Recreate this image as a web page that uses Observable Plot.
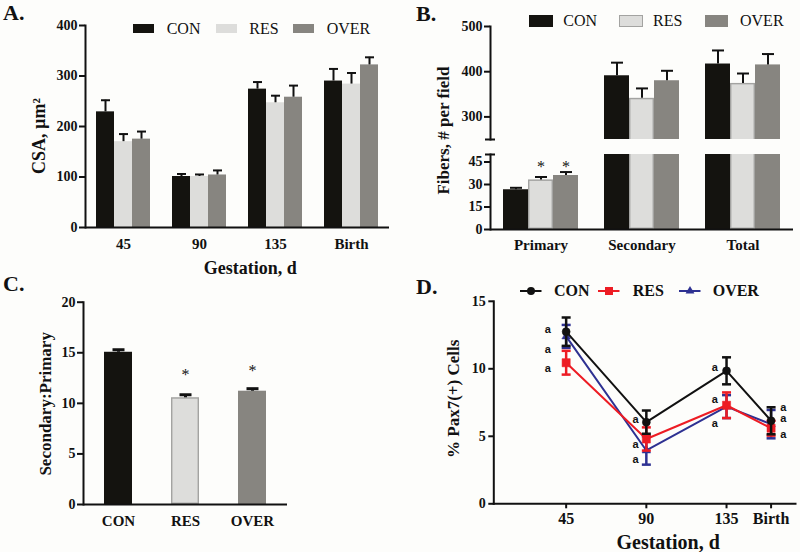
<!DOCTYPE html>
<html>
<head>
<meta charset="utf-8">
<script src="https://cdn.jsdelivr.net/npm/d3@7"></script>
<script src="https://cdn.jsdelivr.net/npm/@observablehq/plot@0.6"></script>
<style>
html,body{margin:0;padding:0;background:#fdfdfb;}
#root{position:relative;width:800px;height:552px;overflow:hidden;background:#fdfdfb;font-family:"Liberation Serif","Times New Roman",serif;color:#111;}
.panel{position:absolute;}
.panel svg{overflow:visible;max-width:none;}
.txt{position:absolute;white-space:nowrap;}
.sw{position:absolute;box-sizing:border-box;}
g[aria-label="title"] text{letter-spacing:0.6px;}
g[aria-label="title-wide"] text{letter-spacing:1.5px;}
g[aria-label="title-xwide"] text{letter-spacing:2px;}
</style>
</head>
<body>
<div id="root"></div>
<script>
// ---------- shared ----------
const groups = ["CON", "RES", "OVER"];
const barFill = ["#14130f", "#dddddb", "#878580"];
const lineColor = ["#111111", "#ed1c24", "#2e3192"];

// ---------- panel A: CSA ----------
const gestation = ["45", "90", "135", "Birth"];
const csaCON = [229, 101, 274, 290];
const csaRES = [170, 101, 247, 284];
const csaOVER = [175, 104, 258, 322];
const csaSemCON = [23, 5, 14, 24];
const csaSemRES = [15, 4, 14, 22];
const csaSemOVER = [15, 9, 23, 15];
const csaTicks = [0, 100, 200, 300, 400];

// ---------- panel B: fibers ----------
const fiberType = ["Primary", "Secondary", "Total"];
const fibCON = [26.5, 391, 417];
const fibRES = [33, 341, 374];
const fibOVER = [36, 380, 415];
const fibSemCON = [1.3, 29, 30];
const fibSemRES = [2, 22, 22];
const fibSemOVER = [2.3, 22, 24];
const fibTicksLow = [0, 15, 30, 45];
const fibTicksHigh = [300, 400, 500];
const fibStarGroup = ["RES", "OVER"];
const fibStarType = ["Primary", "Primary"];
const fibStarY = [43.5, 43.5];

// ---------- panel C: ratio ----------
const ratio = [15.05, 10.55, 11.2];
const ratioSem = [0.25, 0.3, 0.25];
const ratioStarGroup = ["RES", "OVER"];
const ratioStarY = [13.1, 13.5];
const ratioTicks = [0, 5, 10, 15, 20];

// ---------- panel D: Pax7 ----------
const dayLabels = ["45", "90", "135", "Birth"];
const days = [45, 90, 135, 160];
const paxCON = [12.75, 6.05, 9.85, 6.15];
const paxRES = [10.45, 4.8, 7.3, 5.6];
const paxOVER = [12.4, 3.95, 7.2, 5.9];
const paxSemCON = [1.05, 0.86, 1.0, 1.0];
const paxSemRES = [0.88, 0.86, 0.95, 0.55];
const paxSemOVER = [0.85, 1.05, 0.85, 1.05];
const paxTicks = [0, 5, 10, 15];
const letterX = [34.7, 34.7, 34.7, 84, 84, 84, 128.4, 128.4, 128.4, 166.9, 166.9, 166.9];
const letterY = [12.9, 11.45, 10.0, 6.25, 4.4, 3.3, 10.1, 7.75, 5.95, 7.15, 6.3, 5.15];
const letterText = ["a", "a", "a", "a", "a", "a", "a", "a", "a", "a", "a", "a"];

// ---------- helpers ----------
const root = document.getElementById("root");
const SERIF = '"Liberation Serif", "Times New Roman", serif';
const INK = "#111";
const baseStyle = `background: transparent; font-family: ${SERIF}; color: ${INK}; overflow: visible;`;
const capSymbol = {draw(ctx, size) { const w = Math.sqrt(size / Math.PI); ctx.moveTo(-w, 0); ctx.lineTo(w, 0); }};

function place(node, left, top, w, h) {
  const d = document.createElement("div");
  d.className = "panel";
  d.style.left = left + "px"; d.style.top = top + "px";
  d.style.width = w + "px"; d.style.height = h + "px";
  d.appendChild(node); root.appendChild(d);
}
function htmlText(txt, left, centerY, size, weight) {
  const d = document.createElement("div");
  d.className = "txt"; d.textContent = txt;
  d.style.left = left + "px"; d.style.top = (centerY - size / 2) + "px";
  d.style.fontSize = size + "px"; d.style.lineHeight = size + "px"; d.style.fontWeight = weight;
  root.appendChild(d);
}
function swatch(left, top, w, h, fill, border) {
  const d = document.createElement("div");
  d.className = "sw";
  d.style.cssText += `left:${left}px;top:${top}px;width:${w}px;height:${h}px;background:${fill};` + (border ? `border:1.2px solid ${border};` : "");
  root.appendChild(d);
}
function groupTable(cats, key, series, sems) {
  return cats.flatMap((c, i) => groups.map((g, j) => ({[key]: c, group: g, value: series[j][i], sem: sems[j][i]})));
}
const titleOpts = {text: d => d, fill: INK, fontSize: 17, fontWeight: "bold", ariaLabel: "title", textAnchor: "middle", lineAnchor: "middle"};

// ---------- A ----------
const tableA = groupTable(gestation, "gest", [csaCON, csaRES, csaOVER], [csaSemCON, csaSemRES, csaSemOVER]);
const plotA = Plot.plot({
  width: 400, height: 270,
  marginLeft: 84, marginRight: 10, marginTop: 25, marginBottom: 43,
  style: baseStyle,
  fx: {domain: gestation, paddingInner: 0, paddingOuter: 0, label: null},
  x: {domain: groups, paddingInner: 0, paddingOuter: 0.51, axis: null},
  y: {domain: [0, 400]},
  color: {domain: groups, range: barFill},
  marks: [
    Plot.barY(tableA, {fx: "gest", x: "group", y: "value", fill: "group"}),
    Plot.ruleX(tableA, {fx: "gest", x: "group", y1: "value", y2: d => d.value + d.sem, stroke: INK, strokeWidth: 2}),
    Plot.dot(tableA, {fx: "gest", x: "group", y: d => d.value + d.sem, symbol: capSymbol, r: 4.5, fill: "none", stroke: INK, strokeWidth: 2}),
    Plot.ruleY([0], {stroke: INK, strokeWidth: 2}),
    Plot.frame({anchor: "left", facetAnchor: "left", stroke: INK, strokeWidth: 2}),
    Plot.axisY({ticks: csaTicks, tickSize: 6, tickPadding: 2, strokeWidth: 2, fontSize: 14, fontWeight: "bold", label: null}),
    Plot.axisFx({anchor: "bottom", tickSize: 0, tickPadding: 11, fontSize: 15, fontWeight: "bold", label: null}),
    Plot.text(["CSA, µm²"], {...titleOpts, fontSize: 18, ariaLabel: "title-wide", facetAnchor: "left", frameAnchor: "left", rotate: -90, dx: -46, dy: 9.5}),
    Plot.text(["Gestation, d"], {...titleOpts, fontSize: 18, ariaLabel: "title-wide", facetAnchor: "left", frameAnchor: "bottom", dx: 126.75, dy: 41})
  ]
});
place(plotA, 0, 0, 400, 270);

// ---------- B ----------
const tableB = groupTable(fiberType, "type", [fibCON, fibRES, fibOVER], [fibSemCON, fibSemRES, fibSemOVER]);
const resB = tableB.filter(d => d.group === "RES");
const starsB = fibStarGroup.map((g, i) => ({group: g, type: fibStarType[i], y: fibStarY[i]}));
function barsB() {
  return [
    Plot.barY(tableB, {fx: "type", x: "group", y: "value", fill: "group", clip: true}),
    Plot.barY(resB, {fx: "type", x: "group", y: "value", fill: "none", stroke: "#a3a3a1", strokeWidth: 1.4, inset: 0.7, clip: true}),
    Plot.ruleX(tableB, {fx: "type", x: "group", y1: "value", y2: d => d.value + d.sem, stroke: INK, strokeWidth: 2, clip: true}),
    Plot.dot(tableB, {fx: "type", x: "group", y: d => d.value + d.sem, symbol: capSymbol, r: 6, fill: "none", stroke: INK, strokeWidth: 2, clip: true}),
    Plot.frame({anchor: "left", facetAnchor: "left", stroke: INK, strokeWidth: 2})
  ];
}
const commonB = {
  width: 400, height: 270, marginLeft: 90, marginRight: 7,
  style: baseStyle,
  x: {domain: groups, paddingInner: 0, paddingOuter: 0.465, axis: null},
  color: {domain: groups, range: barFill}
};
const plotBlow = Plot.plot({
  ...commonB, marginTop: 154, marginBottom: 41,
  fx: {domain: fiberType, paddingInner: 0, paddingOuter: 0, label: null},
  y: {domain: [0, 50]},
  marks: [
    ...barsB(),
    Plot.ruleY([0], {stroke: INK, strokeWidth: 2}),
    Plot.axisY({ticks: fibTicksLow, tickSize: 6, tickPadding: 2, strokeWidth: 2, fontSize: 14, fontWeight: "bold", label: null}),
    Plot.axisY({ticks: [50], tickSize: 10, dx: 5, strokeWidth: 2, fill: "none", label: null}),
    Plot.axisFx({anchor: "bottom", tickSize: 0, tickPadding: 10, fontSize: 15, fontWeight: "bold", label: null}),
    Plot.text(starsB, {fx: "type", x: "group", y: "y", text: () => "*", fill: INK, fontSize: 16, dy: 3})
  ]
});
const plotBhigh = Plot.plot({
  ...commonB, marginTop: 26, marginBottom: 131,
  fx: {domain: fiberType, paddingInner: 0, paddingOuter: 0, label: null, axis: null},
  y: {domain: [250, 500]},
  marks: [
    ...barsB(),
    Plot.axisY({ticks: fibTicksHigh, tickSize: 6, tickPadding: 2, strokeWidth: 2, fontSize: 14, fontWeight: "bold", label: null}),
    Plot.axisY({ticks: [250], tickSize: 10, dx: 5, strokeWidth: 2, fill: "none", label: null}),
    Plot.text(["Fibers, # per field"], {...titleOpts, facetAnchor: "left", frameAnchor: "left", rotate: -90, dx: -47, dy: 47.5})
  ]
});
place(plotBlow, 400, 0, 400, 270);
place(plotBhigh, 400, 0, 400, 270);

// ---------- C ----------
const tableC = groups.map((g, i) => ({group: g, value: ratio[i], sem: ratioSem[i]}));
const starsC = ratioStarGroup.map((g, i) => ({group: g, y: ratioStarY[i]}));
const plotC = Plot.plot({
  width: 400, height: 282,
  marginLeft: 83, marginRight: 113, marginTop: 31.7, marginBottom: 48,
  style: baseStyle,
  x: {domain: groups, paddingInner: 0.58, paddingOuter: 0.3},
  y: {domain: [0, 20]},
  color: {domain: groups, range: barFill},
  marks: [
    Plot.barY(tableC, {x: "group", y: "value", fill: "group"}),
    Plot.barY(tableC.filter(d => d.group === "RES"), {x: "group", y: "value", fill: "none", stroke: "#a3a3a1", strokeWidth: 1.4, inset: 0.7}),
    Plot.ruleX(tableC, {x: "group", y1: "value", y2: d => d.value + d.sem, stroke: INK, strokeWidth: 3}),
    Plot.dot(tableC, {x: "group", y: d => d.value + d.sem, symbol: capSymbol, r: 6, fill: "none", stroke: INK, strokeWidth: 3}),
    Plot.ruleY([0], {stroke: INK, strokeWidth: 2}),
    Plot.frame({anchor: "left", stroke: INK, strokeWidth: 2}),
    Plot.axisY({ticks: ratioTicks, tickSize: 6, tickPadding: 2, strokeWidth: 2, fontSize: 14, fontWeight: "bold", label: null}),
    Plot.axisX({tickSize: 0, tickPadding: 11, fontSize: 15, fontWeight: "bold", label: null}),
    Plot.text(starsC, {x: "group", y: "y", text: () => "*", fill: INK, fontSize: 16, dy: 3}),
    Plot.text(["Secondary:Primary"], {...titleOpts, frameAnchor: "left", rotate: -90, dx: -38, dy: 0.5})
  ]
});
place(plotC, 0, 270, 400, 282);

// ---------- D ----------
const paxVals = [paxCON, paxRES, paxOVER];
const paxSems = [paxSemCON, paxSemRES, paxSemOVER];
const symbolsD = ["circle", "square", "triangle"];
const symbolR = [4, 4.6, 3.2];
const marksD = [];
[2, 1, 0].forEach(j => {
  const rows = days.map((d, i) => ({day: d, value: paxVals[j][i], sem: paxSems[j][i]}));
  const c = lineColor[j];
  marksD.push(
    Plot.line(rows, {x: "day", y: "value", stroke: c, strokeWidth: 2}),
    Plot.ruleX(rows, {x: "day", y1: d => d.value - d.sem, y2: d => d.value + d.sem, stroke: c, strokeWidth: 2.5}),
    Plot.dot(rows, {x: "day", y: d => d.value + d.sem, symbol: capSymbol, r: 4.5, fill: "none", stroke: c, strokeWidth: 2.5}),
    Plot.dot(rows, {x: "day", y: d => d.value - d.sem, symbol: capSymbol, r: 4.5, fill: "none", stroke: c, strokeWidth: 2.5}),
    Plot.dot(rows, {x: "day", y: "value", symbol: symbolsD[j], r: symbolR[j], fill: c, stroke: c, strokeWidth: 0.5})
  );
});
const letters = letterText.map((t, i) => ({t, x: letterX[i], y: letterY[i]}));
const plotD = Plot.plot({
  width: 400, height: 282,
  marginLeft: 93.3, marginRight: 5, marginTop: 30.8, marginBottom: 48.7,
  style: baseStyle,
  x: {domain: [4.4, 173.7]},
  y: {domain: [0, 15]},
  marks: [
    Plot.frame({anchor: "left", stroke: INK, strokeWidth: 2}),
    Plot.frame({anchor: "bottom", stroke: INK, strokeWidth: 2}),
    ...marksD,
    Plot.axisY({ticks: paxTicks, tickSize: 5, tickPadding: 3, strokeWidth: 2, fontSize: 14, fontWeight: "bold", label: null}),
    Plot.axisX({ticks: days, tickFormat: d => dayLabels[days.indexOf(d)], tickSize: 5, tickPadding: 4, strokeWidth: 2, fontSize: 16, fontWeight: "bold", label: null}),
    Plot.text(letters, {x: "x", y: "y", text: "t", fill: INK, fontFamily: '"Liberation Sans", Arial, sans-serif', fontWeight: "bold", fontSize: 11}),
    Plot.text(["% Pax7(+) Cells"], {...titleOpts, frameAnchor: "left", rotate: -90, dx: -40, dy: -3.7}),
    Plot.text(["Gestation, d"], {...titleOpts, ariaLabel: "title-xwide", frameAnchor: "bottom", dx: 23.5, dy: 38.4, fontSize: 20})
  ]
});
place(plotD, 400, 270, 400, 282);

// ---------- panel letters ----------
htmlText("A.", 3, 13, 22, "bold");
htmlText("B.", 416, 13.5, 22, "bold");
htmlText("C.", 3, 284, 22, "bold");
htmlText("D.", 416, 287, 22, "bold");

// ---------- legend A ----------
const legAsw = [132.7, 215.7, 292.7];
const legAtx = [166.7, 249.3, 326.7];
groups.forEach((g, j) => {
  swatch(legAsw[j], 24, 21.6, 9.3, barFill[j]);
  htmlText(g, legAtx[j], 28.5, 16, "normal");
});
// ---------- legend B ----------
const legBsw = [529.3, 619.3, 705];
const legBtx = [563.3, 653, 740];
groups.forEach((g, j) => {
  swatch(legBsw[j], 15, 23.4, 11.7, barFill[j], g === "RES" ? "#a3a3a1" : null);
  htmlText(g, legBtx[j], 21, 16, "normal");
});
// ---------- legend D ----------
const legDline = [520, 598, 679];
const legDtx = [554, 632.7, 712.7];
const d3sym = [d3.symbolCircle, d3.symbolSquare, d3.symbolTriangle];
const d3area = [50, 64, 34];
groups.forEach((g, j) => {
  const svg = d3.create("svg").attr("width", 22).attr("height", 14)
    .style("position", "absolute").style("left", legDline[j] + "px").style("top", (290.7 - 7) + "px").style("overflow", "visible");
  svg.append("line").attr("x1", 0).attr("x2", 21.5).attr("y1", 7).attr("y2", 7).attr("stroke", lineColor[j]).attr("stroke-width", 2);
  svg.append("path").attr("transform", "translate(11,7)").attr("d", d3.symbol(d3sym[j], d3area[j])()).attr("fill", lineColor[j]);
  root.appendChild(svg.node());
  htmlText(g, legDtx[j], 290.7, 16, "bold");
});
</script>
</body>
</html>
